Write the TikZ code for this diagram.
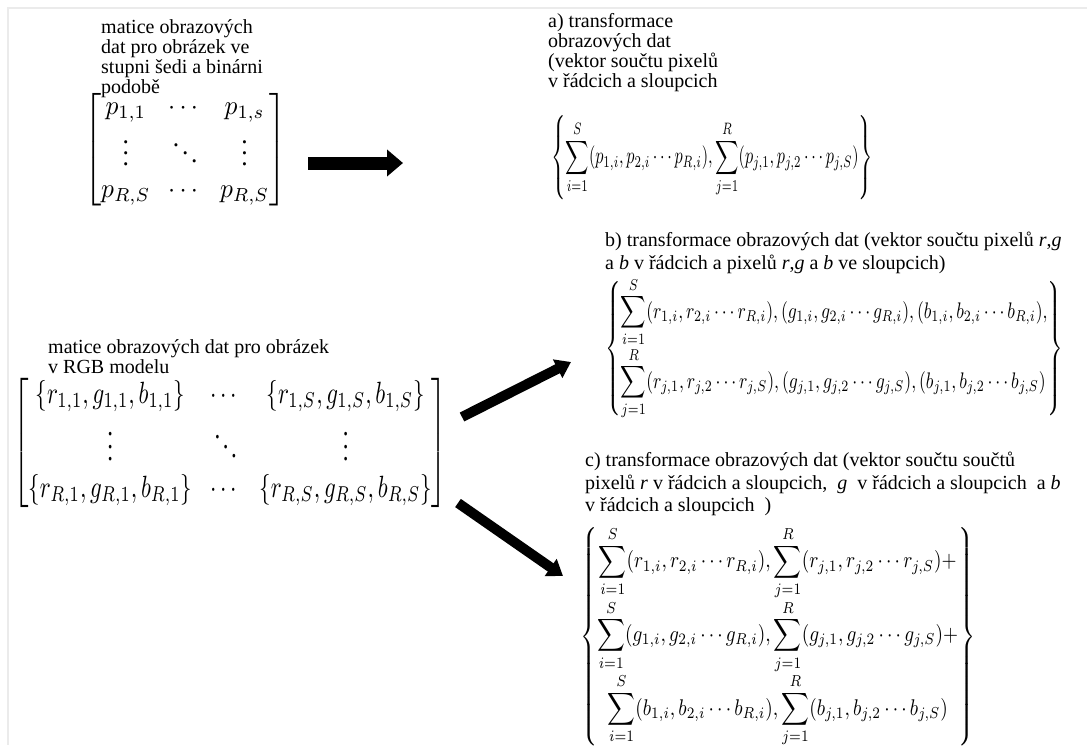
\documentclass[tikz,border=0pt]{standalone}
\usepackage{amsmath}
\usepackage{graphicx}
\usepackage{fontspec}
\setmainfont{Liberation Serif}
\usetikzlibrary{arrows.meta}
\newcommand{\fitbox}[3]{\resizebox*{#1}{#2}{#3}}
\tikzset{
  lbl/.style={anchor=north west, inner sep=0pt, align=left, font=\fontsize{20}{20}\selectfont},
  lblw/.style={anchor=north west, inner sep=0pt, align=left, font=\fontsize{20}{22.5}\selectfont},
  eqbox/.style={anchor=north west, inner sep=0pt},
  bigarrow/.style={line width=13pt, -{Triangle[length=16pt,width=26pt]}},
  midarrow/.style={line width=10pt, -{Triangle[length=15pt,width=20pt]}},
  frameline/.style={draw=black!8, line width=2pt}
}
\begin{document}
\begin{tikzpicture}[x=1pt,y=-1pt]
\useasboundingbox (0,0) rectangle (1087,745);
\draw[frameline] (8,745) -- (8,8) -- (1087,8);

% top-left label and matrix
\node[lbl] (lgray) at (101,19) {matice obrazových\\dat pro obrázek ve\\stupni šedi a binárni\\podobě};
\node[eqbox] (pmat) at (84,92) {\fitbox{202pt}{115pt}{$\setlength\arraycolsep{3.5pt}\begin{bmatrix} p_{1,1} & \cdots & p_{1,s}\\ \vdots & \ddots & \vdots\\ p_{R,S} & \cdots & p_{R,S}\end{bmatrix}$}};

% a)
\node[lbl] (la) at (548,13) {a) transformace\\obrazových dat\\(vektor součtu pixelů\\v řádcich a sloupcich};
\node[eqbox] (aeq) at (551,115) {\fitbox{322pt}{85pt}{$\displaystyle\left\{\sum_{i=1}^{S}(p_{1,i},p_{2,i}\cdots p_{R,i}),\sum_{j=1}^{R}(p_{j,1},p_{j,2}\cdots p_{j,S})\right\}$}};

\coordinate (a1s) at (308,163);
\coordinate (a1e) at (403,163);
\draw[bigarrow] (a1s) -- (a1e);

% RGB
\node[lbl] (lrgb) at (48,339) {matice obrazových dat pro obrázek\\v RGB modelu};
\node[eqbox] (rgbmat) at (13,377) {\fitbox{434pt}{131pt}{$\setlength\arraycolsep{4pt}\begin{bmatrix} \{r_{1,1},g_{1,1},b_{1,1}\} & \cdots & \{r_{1,S},g_{1,S},b_{1,S}\}\\ \vdots & \ddots & \vdots\\ \{r_{R,1},g_{R,1},b_{R,1}\} & \cdots & \{r_{R,S},g_{R,S},b_{R,S}\}\end{bmatrix}$}};

% b)
\node[lblw] (lb) at (605,232) {b) transformace obrazových dat (vektor součtu pixelů \textit{r},\textit{g}\\a \textit{b} v řádcich a pixelů \textit{r},\textit{g} a \textit{b} ve sloupcich)};
\node[eqbox] (beq) at (605,277) {\fitbox{458pt}{143pt}{$\left\{\begin{array}{@{}l@{}}
\displaystyle\sum_{i=1}^{S}(r_{1,i},r_{2,i}\cdots r_{R,i}),(g_{1,i},g_{2,i}\cdots g_{R,i}),(b_{1,i},b_{2,i}\cdots b_{R,i}),\\
\displaystyle\sum_{j=1}^{R}(r_{j,1},r_{j,2}\cdots r_{j,S}),(g_{j,1},g_{j,2}\cdots g_{j,S}),(b_{j,1},b_{j,2}\cdots b_{j,S})
\end{array}\right\}$}};

% c)
\node[lblw] (lc) at (585,452) {c) transformace obrazových dat (vektor součtu součtů\\pixelů \textit{r} v řádcich a sloupcich, \ \textit{g} \ v řádcich a sloupcich \ a \textit{b}\\v řádcich a sloupcich \ )};
\node[eqbox] (ceq) at (580,526) {\fitbox{395pt}{221pt}{$\left\{\begin{array}{@{}c@{}}
\displaystyle\sum_{i=1}^{S}(r_{1,i},r_{2,i}\cdots r_{R,i}),\sum_{j=1}^{R}(r_{j,1},r_{j,2}\cdots r_{j,S})+\\
\displaystyle\sum_{i=1}^{S}(g_{1,i},g_{2,i}\cdots g_{R,i}),\sum_{j=1}^{R}(g_{j,1},g_{j,2}\cdots g_{j,S})+\\
\displaystyle\sum_{i=1}^{S}(b_{1,i},b_{2,i}\cdots b_{R,i}),\sum_{j=1}^{R}(b_{j,1},b_{j,2}\cdots b_{j,S})
\end{array}\right\}$}};

\coordinate (a2s) at (462,417);
\coordinate (a2e) at (571,362);
\draw[midarrow] (a2s) -- (a2e);
\coordinate (a3s) at (458,503);
\coordinate (a3e) at (563,576);
\draw[midarrow] (a3s) -- (a3e);
\end{tikzpicture}
\end{document}
